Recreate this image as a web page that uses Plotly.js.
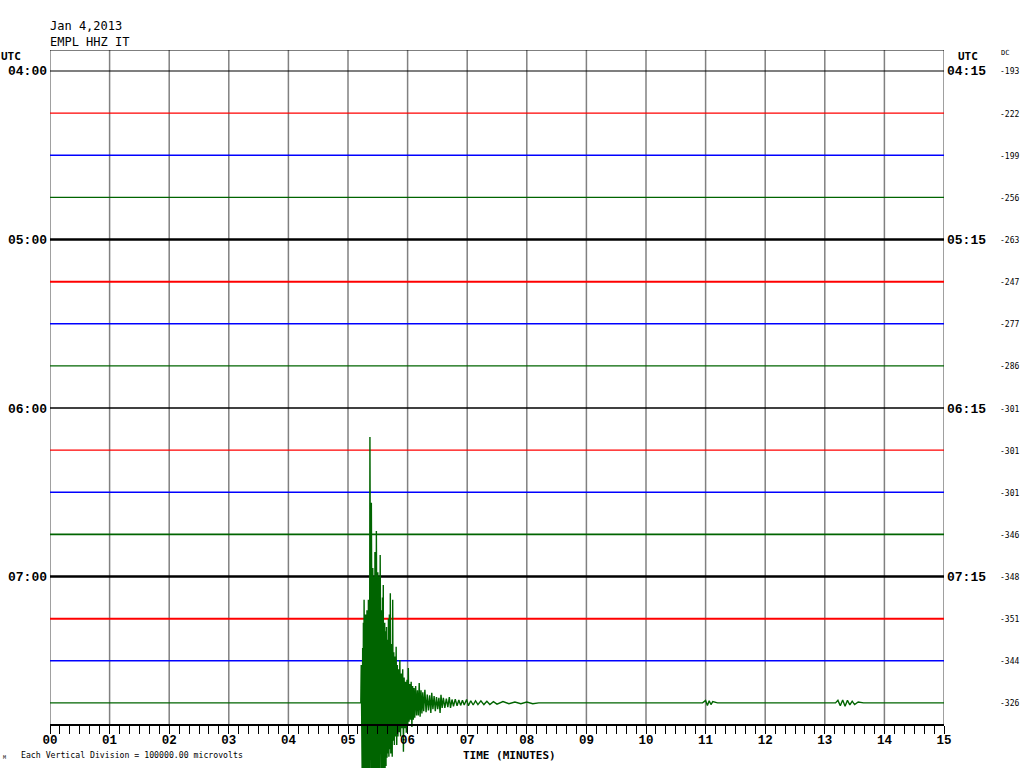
<!DOCTYPE html>
<html>
<head>
<meta charset="utf-8">
<script src="https://cdn.plot.ly/plotly-3.0.1.min.js"></script>
<style>html,body{margin:0;padding:0;background:#fff;}#chart{width:1024px;height:768px;}</style>
</head>
<body>
<div id="chart"></div>
<script>
// ---- data ----
var dateLabel = "Jan 4,2013";
var stationLabel = "EMPL HHZ IT";
var leftHourLabels = ["04:00", "05:00", "06:00", "07:00"];
var rightHourLabels = ["04:15", "05:15", "06:15", "07:15"];
var dcValues = [-193, -222, -199, -256, -263, -247, -277, -286, -301, -301, -301, -346, -348, -351, -344, -326];
var minuteStart = 0;
var minuteEnd = 15;
// earthquake on last row (07:45): time in minutes, amplitude in vertical divisions (up positive)
var quakeTime = [0, 5.215,
 5.222,5.228,5.234,5.240,5.246,5.252,5.258,5.264,5.270,5.276,5.282,5.288,5.294,5.300,5.306,5.312,5.318,5.324,5.330,5.336,5.342,5.348,5.354,5.360,
 5.368,5.374,5.380,5.386,5.392,5.398,5.404,5.410,5.416,5.422,5.428,5.434,5.440,5.446,5.452,5.458,5.464,5.470,5.476,5.482,5.488,5.494,5.500,5.506,
 5.512,5.518,5.524,5.530,5.540,5.546,5.552,5.558,5.564,5.570,5.578,5.584,5.592,5.598,5.604,5.610,5.616,5.622,5.630,5.638,5.646,5.654,5.662,5.670,
 5.678,5.686,5.694,5.702,5.710,5.718,5.726,5.734,5.742,5.750,5.758,5.768,5.778,5.788,5.798,5.808,5.818,5.828,5.838,5.848,5.858,5.870,5.882,5.894,
 5.906,5.918,5.930,5.942,5.954,5.966,5.978,5.990,6.002,6.012,6.024,6.036,6.048,6.060,6.072,6.084,6.096,6.108,6.120,6.135,6.150,6.165,6.180,6.195,
 6.210,6.225,6.240,6.255,6.270,6.290,6.310,6.330,6.350,6.370,6.390,6.405,6.425,6.445,6.465,6.485,6.505,6.525,6.545,6.560,6.580,6.600,6.625,6.650,
 6.675,6.700,6.720,6.745,6.770,6.800,6.830,6.860,6.890,6.920,6.950,6.990,7.020,7.060,7.100,7.140,7.180,7.230,7.280,7.330,7.380,7.440,7.500,7.600,
 7.700,7.800,7.900,8.000,8.100,8.200,
 10.95,11.00,11.03,11.06,11.09,11.12,11.20,
 13.18,13.22,13.26,13.30,13.34,13.38,13.42,13.46,13.50,13.56,13.65,15];
var quakeAmp = [0, 0,
 0.9,-2,0.7,-2,1.3,-2,1.9,-2,2.45,-2,1.5,-2,2.1,-2,1.7,-2,2.2,-2,1.8,-2,2.45,-2,2.0,-2,
 6.31,-2,3.0,-2,4.75,-2,2.6,-2,3.2,-2,2.4,-2,3.0,-2,3.58,-2,2.6,-2,4.08,-2,2.8,-2,3.1,-2,
 2.5,-2,3.0,-2,3.51,-2,2.6,-2,2.2,-2,2.5,-2,2.8,-2,2.2,-1.8,1.9,-1.6,1.7,-1.5,1.8,-1.3,1.5,-1.2,
 2.0,-1.28,2.1,-1.1,2.6,-1.2,1.4,-1.0,-1.28,2.45,-0.9,1.2,-1.0,1.1,-0.8,1.33,-1.0,0.9,-0.8,0.8,-0.7,1.02,-0.8,0.7,
 -0.6,0.8,-1.16,0.6,-0.6,0.5,-0.71,0.55,-0.5,0.83,-0.45,0.45,-0.4,0.5,-0.57,0.4,-0.4,0.35,-0.35,0.4,-0.3,0.3,-0.3,0.47,
 -0.33,0.3,-0.25,0.25,-0.2,0.31,-0.22,0.2,-0.18,0.18,-0.24,0.24,-0.15,0.16,-0.2,0.14,-0.15,0.12,-0.24,0.19,-0.12,0.12,-0.12,0.1,
 -0.1,0.14,-0.12,0.08,-0.08,0.09,-0.07,0.07,-0.06,0.06,-0.05,0.08,-0.07,0.05,-0.05,0.05,-0.04,0.05,-0.04,0.04,-0.04,0.03,-0.03,0.03,
 -0.02,0.02,-0.02,0.02,-0.02,0,
 0,0.06,-0.06,0.05,-0.04,0.03,0,
 0,0.06,-0.07,0.07,-0.08,0.06,-0.05,0.04,-0.04,0.02,0,0];

// ---- styles ----
var rowColors = ["#000000", "#ff0000", "#0000ff", "#006400"];
var rowWidths = [1.2, 1.2, 1.4, 1.4, 2.5, 2, 1.5, 1.2, 1.4, 1.4, 1.6, 1.6, 2.5, 2, 1.6, 1.2];
var nRows = dcValues.length;

// pixel geometry helpers
var W = 1024, H = 768, L = 50, R = 80, T = 50, B = 0;
var plotW = W - L - R, plotH = H - T - B;
var rowPx = 42.125;          // pixels per row (division)
var firstRowPx = 71;         // pixel y of first row
var yTop = -(firstRowPx - T) / rowPx;
var yBot = (H - B - firstRowPx) / rowPx;
function px2paperX(px) { return (px - L) / plotW; }
function px2paperY(py) { return (H - B - py) / plotH; }

var traces = [];
for (var i = 0; i < nRows; i++) {
  if (i === nRows - 1) {
    traces.push({
      type: 'scatter', mode: 'lines',
      x: quakeTime,
      y: quakeAmp.map(function (a) { return (nRows - 1) - a; }),
      line: { color: rowColors[i % 4], width: 1.4 },
      hoverinfo: 'skip'
    });
  } else {
    traces.push({
      type: 'scatter', mode: 'lines',
      x: [minuteStart, minuteEnd], y: [i, i],
      line: { color: rowColors[i % 4], width: rowWidths[i] },
      hoverinfo: 'skip'
    });
  }
}

var shapes = [];
for (var m = minuteStart; m <= minuteEnd; m++) {
  shapes.push({ type: 'line', xref: 'x', yref: 'y', x0: m, x1: m, y0: yTop, y1: nRows - 0.5,
    line: { color: '#808080', width: 1.5 }, layer: 'below' });
}
shapes.push({ type: 'line', xref: 'x', yref: 'y', x0: minuteStart, x1: minuteEnd, y0: yTop, y1: yTop,
  line: { color: '#000000', width: 1.2 } });

var mono = "DejaVu Sans Mono, monospace";
var monoB = "Liberation Mono, Courier New, monospace";
var ann = [];
function addText(text, px, py, size, family, xanchor, color) {
  ann.push({ text: text, xref: 'paper', yref: 'paper', x: px2paperX(px), y: px2paperY(py),
    xanchor: xanchor || 'left', yanchor: 'middle', showarrow: false,
    font: { size: size, family: family, color: color || '#000' } });
}
addText(dateLabel, 48, 26, 12, mono, 'left');
addText(stationLabel, 48, 42, 12, mono, 'left');
addText("<b>UTC</b>", -1, 57, 11, mono, 'left');
addText("<b>UTC</b>", 956, 57, 11, mono, 'left');
addText("DC", 999, 53, 7, mono, 'left');
for (var k = 0; k < leftHourLabels.length; k++) {
  var row = k * 4;
  var py = firstRowPx + row * rowPx + 1;
  addText("<b>" + leftHourLabels[k] + "</b>", 49, py, 13, monoB, 'right');
  addText("<b>" + rightHourLabels[k] + "</b>", 945, py, 13, monoB, 'left');
}
for (var j = 0; j < nRows; j++) {
  addText(String(dcValues[j]), 998, firstRowPx + j * rowPx + 1, 8, mono, 'left');
}
addText("<b>TIME (MINUTES)</b>", 509, 755, 11, mono, 'center');
addText("Each Vertical Division = 100000.00 microvolts", 19, 755, 8.2, mono, 'left');
addText("M", 1, 757, 5, mono, 'left');

var layout = {
  width: W, height: H,
  margin: { l: L, r: R, t: T, b: B, pad: 0 },
  paper_bgcolor: '#ffffff', plot_bgcolor: '#ffffff',
  showlegend: false,
  xaxis: {
    range: [minuteStart, minuteEnd],
    anchor: 'free', position: px2paperY(724),
    showgrid: false, zeroline: false,
    showline: true, linecolor: '#000', linewidth: 1.5,
    tickmode: 'linear', tick0: 0, dtick: 1, tickformat: '02d',
    ticks: 'outside', ticklen: 8, tickwidth: 1, tickcolor: '#000',
    ticklabelstandoff: -5,
    minor: { dtick: 1 / 6, ticks: 'outside', ticklen: 8, tickwidth: 1, tickcolor: '#000', showgrid: false },
    tickfont: { family: monoB, size: 12.5, color: '#000', weight: 'bold' },
    fixedrange: true
  },
  yaxis: {
    range: [yBot, yTop], visible: false, fixedrange: true
  },
  shapes: shapes,
  annotations: ann
};

Plotly.newPlot('chart', traces, layout, { staticPlot: true, displayModeBar: false });
</script>
</body>
</html>
